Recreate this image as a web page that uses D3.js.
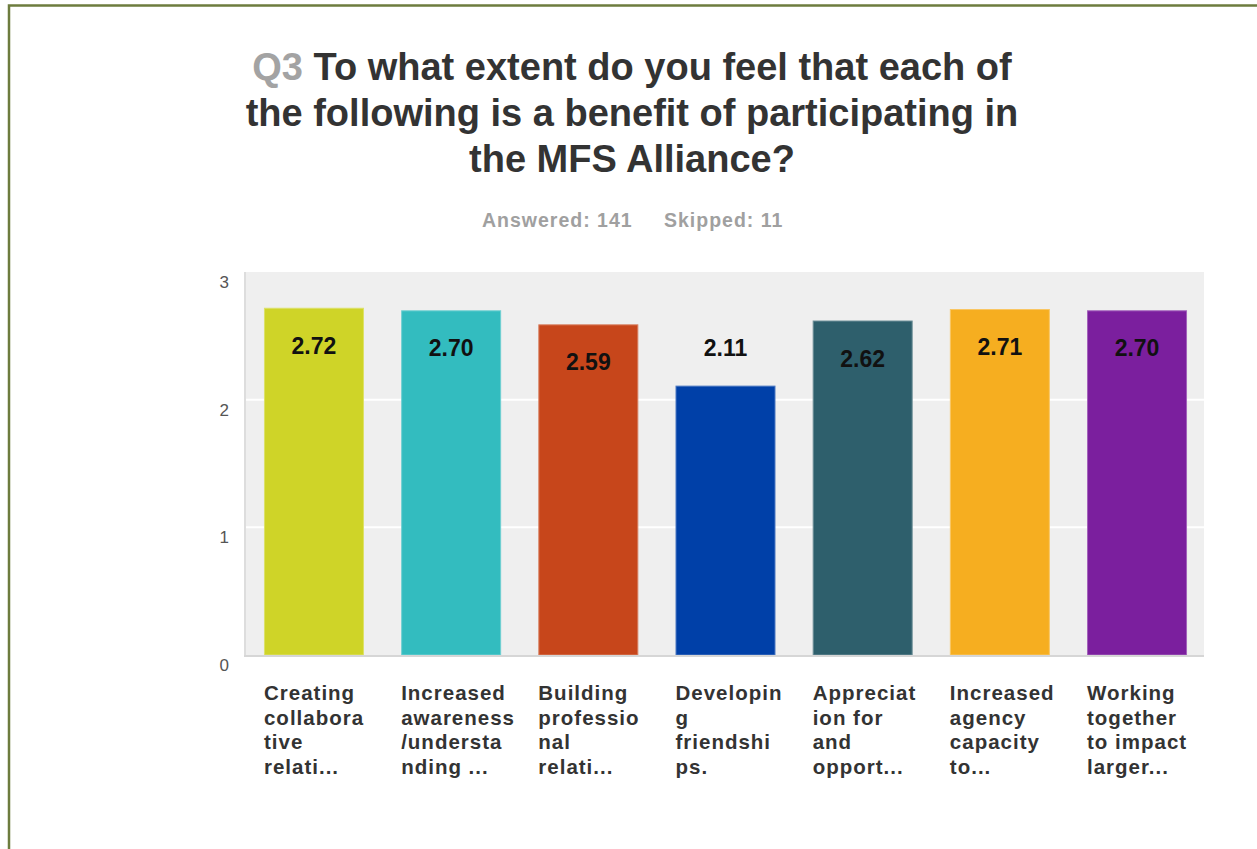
<!DOCTYPE html>
<html>
<head>
<meta charset="utf-8">
<script src="https://cdn.jsdelivr.net/npm/d3@7"></script>
<style>
  html, body { margin: 0; padding: 0; background: #ffffff; }
  svg { display: block; font-family: "Liberation Sans", Arial, sans-serif; }
</style>
</head>
<body>
<svg id="chart" width="1257" height="849"></svg>
<script>
// Survey question Q3: average rating per benefit
const categories = [
  ["Creating", "collabora", "tive", "relati..."],
  ["Increased", "awareness", "/understa", "nding ..."],
  ["Building", "professio", "nal", "relati..."],
  ["Developin", "g", "friendshi", "ps."],
  ["Appreciat", "ion for", "and", "opport..."],
  ["Increased", "agency", "capacity", "to..."],
  ["Working", "together", "to impact", "larger..."]
];
const values = [2.72, 2.70, 2.59, 2.11, 2.62, 2.71, 2.70];
const barColors = ["#cfd428", "#33bcbf", "#c7461b", "#0040a8", "#2e5f6c", "#f6ae20", "#7b1f9e"];
const yTicks = [0, 1, 2, 3];
const titleLines = [
  "To what extent do you feel that each of",
  "the following is a benefit of participating in",
  "the MFS Alliance?"
];
const questionNumber = "Q3";
const answeredText = "Answered: 141";
const skippedText = "Skipped: 11";

const svg = d3.select("#chart");

// outer frame (top and left edges)
svg.append("path")
  .attr("d", "M9,849V5.5H1257")
  .attr("fill", "none")
  .attr("stroke", "#6d7c3e")
  .attr("stroke-width", 2.5);

// title
const cx = 632;
const title = svg.append("g").attr("font-weight", "bold").attr("font-size", 38);
titleLines.forEach((line, i) => {
  const t = title.append("text")
    .attr("x", cx)
    .attr("y", 80 + i * 46)
    .attr("text-anchor", "middle")
    .attr("fill", "#333333");
  if (i === 0) {
    t.append("tspan").attr("fill", "#a3a3a3").text(questionNumber + " ");
  }
  t.append("tspan").text(line);
});

// answered / skipped
const sub = svg.append("g")
  .attr("font-weight", "bold")
  .attr("font-size", 19.5)
  .attr("letter-spacing", 1.0)
  .attr("fill", "#a0a0a0");
sub.append("text").attr("x", 482).attr("y", 226.5).text(answeredText);
sub.append("text").attr("x", 664).attr("y", 226.5).text(skippedText);

// plot area
const plot = { left: 244, right: 1204, top: 272, bottom: 655 };

const x = d3.scaleBand()
  .domain(d3.range(values.length))
  .range([246, 1205])
  .paddingInner(0.271)
  .paddingOuter(0.131);

const y = d3.scaleLinear()
  .domain([0, 3])
  .range([plot.bottom, plot.top]);

svg.append("rect")
  .attr("x", plot.left)
  .attr("y", plot.top)
  .attr("width", plot.right - plot.left)
  .attr("height", plot.bottom - plot.top)
  .attr("fill", "#efefef");

// left edge of plot
svg.append("line")
  .attr("x1", plot.left + 1).attr("x2", plot.left + 1)
  .attr("y1", plot.top).attr("y2", plot.bottom)
  .attr("stroke", "#dddddd")
  .attr("stroke-width", 2);

// gridlines
svg.append("g")
  .selectAll("line")
  .data(yTicks.filter(d => d > 0 && d < 3))
  .join("line")
  .attr("x1", plot.left + 2)
  .attr("x2", plot.right)
  .attr("y1", d => y(d))
  .attr("y2", d => y(d))
  .attr("stroke", "#ffffff")
  .attr("stroke-width", 2);

// y axis labels
const yAxis = d3.axisLeft(y).tickValues(yTicks).tickSize(0).tickPadding(0).tickFormat(d3.format("d"));
const yg = svg.append("g")
  .attr("transform", `translate(229,0)`)
  .call(yAxis)
  .attr("font-family", "'Liberation Sans', Arial, sans-serif")
  .attr("font-size", 17);
yg.select(".domain").remove();
yg.selectAll("text")
  .attr("fill", "#555555")
  .attr("dy", 15.5);

// bars
svg.append("g")
  .selectAll("rect")
  .data(values)
  .join("rect")
  .attr("x", (d, i) => x(i) + 0.5)
  .attr("y", d => y(d) + 0.5)
  .attr("width", x.bandwidth() - 1)
  .attr("height", d => y(0) - y(d) - 0.5)
  .attr("fill", (d, i) => barColors[i])
  .attr("stroke", (d, i) => d3.interpolateRgb(barColors[i], "#ffffff")(0.3))
  .attr("stroke-width", 1);

// baseline
svg.append("line")
  .attr("x1", plot.left).attr("x2", plot.right)
  .attr("y1", y(0) + 1).attr("y2", y(0) + 1)
  .attr("stroke", "#d6d6d6")
  .attr("stroke-width", 2);

// value labels: inside the bar top, or above it when the bar is shorter
svg.append("g")
  .selectAll("text")
  .data(values)
  .join("text")
  .attr("x", (d, i) => x(i) + x.bandwidth() / 2)
  .attr("y", d => d >= 2.5 ? y(d) + 46 : y(d) - 30)
  .attr("text-anchor", "middle")
  .attr("font-weight", "bold")
  .attr("font-size", 23)
  .attr("fill", "#111111")
  .text(d => d.toFixed(2));

// category labels
const xl = svg.append("g")
  .attr("font-weight", "bold")
  .attr("font-size", 20.5)
  .attr("letter-spacing", 1.0)
  .attr("fill", "#333333");
categories.forEach((lines, i) => {
  const t = xl.append("text");
  lines.forEach((ln, j) => {
    t.append("tspan")
      .attr("x", x(i))
      .attr("y", 700 + j * 24.5)
      .text(ln);
  });
});
</script>
</body>
</html>
